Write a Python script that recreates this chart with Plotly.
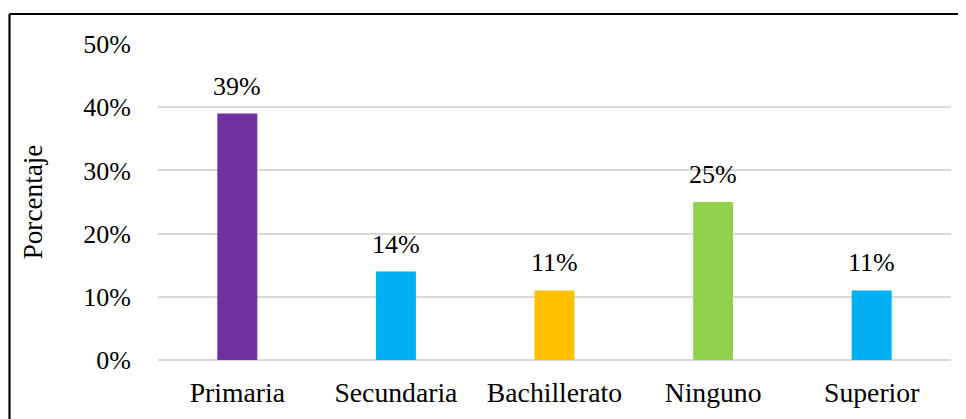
import plotly.graph_objects as go

categories = ["Primaria", "Secundaria", "Bachillerato", "Ninguno", "Superior"]
values = [39, 14, 11, 25, 11]
colors = ["#7030A0", "#00B0F0", "#FFC000", "#92D050", "#00B0F0"]
y_ticks = [0, 10, 20, 30, 40, 50]
y_tick_labels = ["0%", "10%", "20%", "30%", "40%", "50%"]

OFF = 8  # browser body margin
W, H = 966 - OFF, 419 - OFF
L, R, T, B = 158 - OFF, 15, 44 - OFF, 59
pw, ph = W - L - R, H - T - B

FAM = "Liberation Serif, Times New Roman, serif"
font = dict(family=FAM, size=26, color="#000000")
cat_font = dict(family=FAM, size=27.7, color="#000000")
title_font = dict(family=FAM, size=27.2, color="#000000")

fig = go.Figure(go.Bar(
    x=categories, y=values,
    marker=dict(color=colors, line=dict(width=0)),
    width=0.252,
    cliponaxis=False,
))

for c, v in zip(categories, values):
    fig.add_annotation(x=c, y=v, text=f"{v}%", showarrow=False,
                       xanchor="center", yanchor="bottom", yshift=11,
                       font=font)

def px_x(p):
    return (p - OFF - L) / pw

def px_y(p):
    return (H - B - (p - OFF)) / ph

fig.update_layout(
    width=W, height=H,
    margin=dict(l=L, r=R, t=T, b=B),
    paper_bgcolor="white", plot_bgcolor="white",
    font=font,
    showlegend=False,
    bargap=0.748,
    xaxis=dict(showgrid=False, showline=False, ticks="", tickfont=cat_font,
               ticklabelstandoff=13),
    yaxis=dict(range=[0, 50], tickvals=y_ticks, ticktext=y_tick_labels,
               showgrid=True, gridcolor="#D9D9D9", gridwidth=1.5,
               zeroline=True, zerolinecolor="#D9D9D9", zerolinewidth=1.5,
               showline=False, ticks="", ticklabelstandoff=26,
               tickfont=font,
               title=dict(text="Porcentaje", font=title_font, standoff=32)),
    shapes=[
        dict(type="line", xref="paper", yref="paper",
             x0=px_x(9.5), x1=px_x(1000), y0=px_y(14), y1=px_y(14),
             line=dict(color="black", width=2.2)),
        dict(type="line", xref="paper", yref="paper",
             x0=px_x(9.5), x1=px_x(9.5), y0=px_y(14), y1=px_y(440),
             line=dict(color="black", width=2.2)),
    ],
)

fig.write_html("out.html")
